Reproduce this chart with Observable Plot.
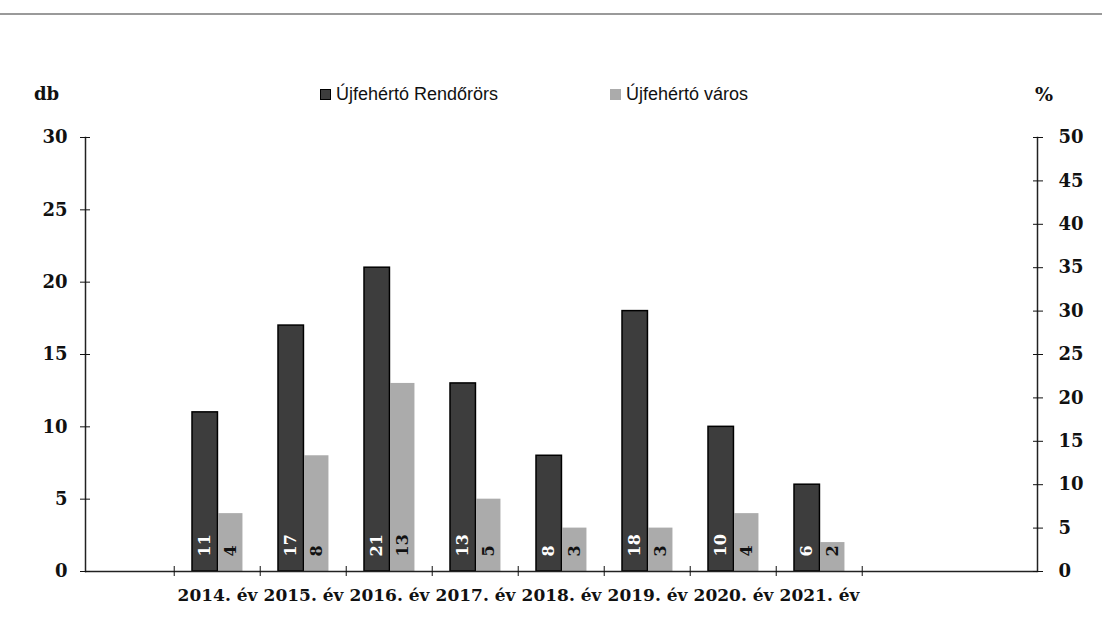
<!DOCTYPE html>
<html><head><meta charset="utf-8">
<script src="https://cdn.jsdelivr.net/npm/d3@7"></script>
<script src="https://cdn.jsdelivr.net/npm/@observablehq/plot@0.6"></script>
<style>
body{margin:0;background:#fff;width:1102px;height:635px;overflow:hidden}
#head{position:relative;height:115px;width:1102px}
.topline{position:absolute;left:0;top:13px;width:1102px;height:2px;background:#9a9a9a}
.unit{position:absolute;top:83px;font:bold 18px "DejaVu Serif";color:#111}
.leg{position:absolute;top:84px;font:18px "Liberation Sans";color:#111;display:flex;align-items:center;white-space:nowrap}
.sw{display:inline-block;width:11px;height:11px;margin-right:5px;box-sizing:border-box}
</style></head><body>
<div id="head">
  <div class="topline"></div>
  <div class="unit" style="left:34px">db</div>
  <div class="unit" style="left:1035px;font-size:19px">%</div>
  <div class="leg" id="leg1" style="left:320px"></div>
  <div class="leg" id="leg2" style="left:610px"></div>
</div>
<div id="chart"></div>
<script>
const years = ["2014. év","2015. év","2016. év","2017. év","2018. év","2019. év","2020. év","2021. év"];
const rendorors = [11,17,21,13,8,18,10,6];
const varos = [4,8,13,5,3,3,4,2];
const seriesNames = ["Újfehértó Rendőrörs","Újfehértó város"];
const seriesColors = ["#3d3d3d","#ababab"];
const leftTicks = [0,5,10,15,20,25,30];
const rightTicks = [0,5,10,15,20,25,30,35,40,45,50];
const slots = [" ", ...years, "  ", "   "];

const darkRows = years.map((y,i)=>({year:y, value:rendorors[i]}));
const lightRows = years.map((y,i)=>({year:y, value:varos[i]}));

// legend
[["leg1",0],["leg2",1]].forEach(([id,i])=>{
  const el = document.getElementById(id);
  const sw = document.createElement("span");
  sw.className = "sw";
  sw.style.background = seriesColors[i];
  if (i===0) sw.style.border = "1.5px solid #000";
  el.appendChild(sw);
  el.appendChild(document.createTextNode(seriesNames[i]));
});

const W = 1102, ML = 85, MR = 65;
const bw = (W - ML - MR) / slots.length;

const chart = Plot.plot({
  width: W, height: 520,
  marginTop: 22, marginBottom: 64, marginLeft: ML, marginRight: MR,
  x: {domain: slots, padding: 0},
  y: {domain: [0, 30], label: null},
  style: {fontFamily: "DejaVu Serif", fontWeight: "bold", fontSize: "17px", color: "#111", background: "#fff"},
  marks: [
    Plot.barY(darkRows, {x: "year", y: "value", fill: seriesColors[0], stroke: "#000", strokeWidth: 1.5, insetLeft: 18, insetRight: bw - 44}),
    Plot.barY(lightRows, {x: "year", y: "value", fill: seriesColors[1], insetLeft: 44, insetRight: bw - 69}),
    Plot.text(darkRows, {x: "year", y: 0, text: d => String(d.value), rotate: -90, textAnchor: "start", dx: 31 - bw/2, dy: -15, fill: "#fff", fontSize: 16}),
    Plot.text(lightRows, {x: "year", y: 0, text: d => String(d.value), rotate: -90, textAnchor: "start", dx: 56.5 - bw/2, dy: -15, fill: "#111", fontSize: 16}),
    Plot.frame({anchor: "left", stroke: "#222", strokeWidth: 1.5}),
    Plot.frame({anchor: "right", stroke: "#222", strokeWidth: 1.5}),
    Plot.ruleY([0], {stroke: "#222", strokeWidth: 1.5}),
    Plot.axisY({anchor: "left", ticks: leftTicks, tickSize: 10, dx: 5, tickPadding: 13, fontSize: 18, label: null}),
    Plot.axisY({anchor: "right", ticks: rightTicks.map(v => v * 30 / 50), tickFormat: d => String(Math.round(d * 50 / 30)), tickSize: 10, dx: -5, tickPadding: 16, fontSize: 18, label: null}),
    Plot.axisX({ticks: slots.slice(1, 10), tickSize: 10, dy: -5, dx: -bw/2, tickFormat: () => "", label: null}),
    Plot.axisX({ticks: years, tickSize: 0, tickPadding: 17, fontSize: 17, label: null})
  ]
});
document.getElementById("chart").appendChild(chart);
</script>
</body></html>
